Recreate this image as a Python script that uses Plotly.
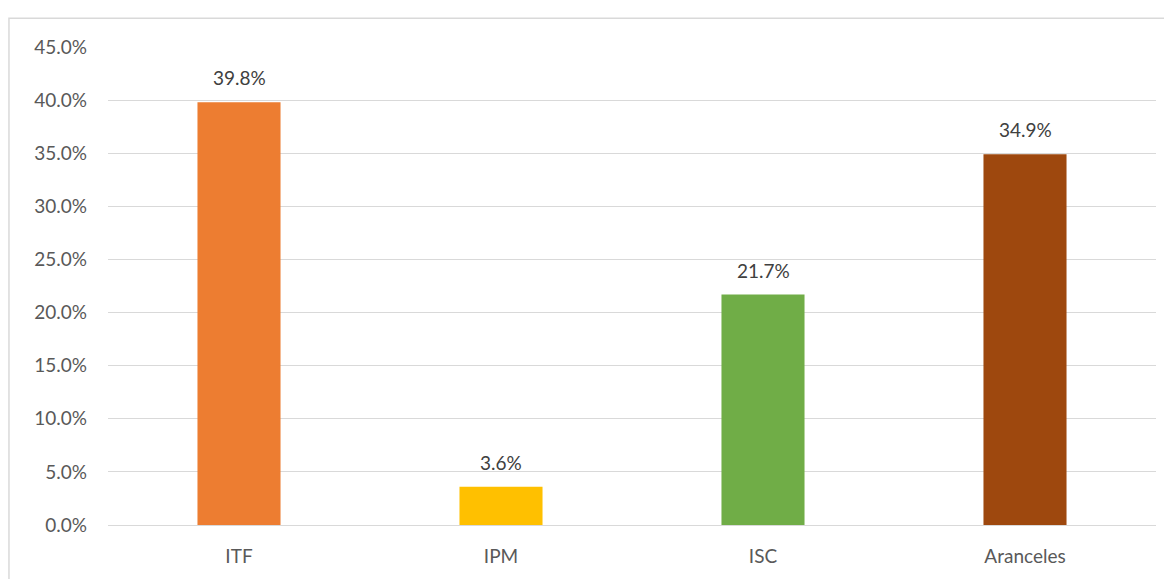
import plotly.graph_objects as go

categories = ["ITF", "IPM", "ISC", "Aranceles"]
shares = [39.8, 3.6, 21.7, 34.9]
bar_colors = ["#ED7D31", "#FFC000", "#70AD47", "#9E480E"]
y_ticks = [0, 5, 10, 15, 20, 25, 30, 35, 40, 45]
y_tick_labels = [f"{v:.1f}%" for v in y_ticks]

font_family = "Lato, 'Open Sans', sans-serif"
text_color = "#595959"
font_size = 19

fig = go.Figure(
    go.Bar(
        x=categories,
        y=shares,
        marker=dict(color=bar_colors, line=dict(width=0)),
        hovertemplate="%{x}: %{y:.1f}%<extra></extra>",
    )
)

# data labels sitting above each bar
for cat, val in zip(categories, shares):
    fig.add_annotation(
        x=cat, y=val, text=f"{val:.1f}%", showarrow=False,
        yanchor="bottom", yshift=11,
        font=dict(family=font_family, size=font_size, color="#404040"),
    )

# light frame around the chart area (runs off right/bottom like the source)
fig.add_shape(
    type="rect", xref="paper", yref="paper",
    x0=-0.0945, x1=1.03, y0=-0.16, y1=1.0604,
    line=dict(color="#D9D9D9", width=1.5), layer="below",
)

# page body has an 8px margin, so the figure is offset by 8px
fig.update_layout(
    width=1164,
    height=571,
    margin=dict(l=100, r=16, t=39, b=52),
    plot_bgcolor="white",
    paper_bgcolor="white",
    bargap=0.683,
    showlegend=False,
    font=dict(family=font_family, size=font_size, color=text_color),
)

fig.update_yaxes(
    range=[0, 45],
    tickvals=y_ticks,
    ticktext=y_tick_labels,
    showgrid=True,
    gridcolor="#D9D9D9",
    gridwidth=1,
    zeroline=True,
    zerolinecolor="#D9D9D9",
    zerolinewidth=1,
    showline=False,
    ticks="",
    ticklabelstandoff=20,
    tickfont=dict(family=font_family, size=font_size, color=text_color),
)
fig.update_xaxes(
    showgrid=False,
    showline=False,
    ticks="",
    ticklabelstandoff=18,
    tickfont=dict(family=font_family, size=font_size, color=text_color),
)

fig.write_html("out.html")
